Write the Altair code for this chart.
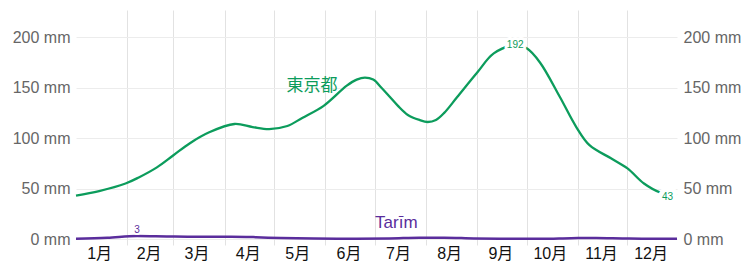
import altair as alt
import pandas as pd

YEAR = 2023

# 東京都 precipitation curve
tokyo_days = ["01-01", "01-15", "01-31", "02-08", "02-19", "03-01", "03-11", "03-23",
              "04-07", "04-18", "04-28", "05-09", "05-18", "05-31", "06-14", "06-20",
              "06-25", "06-30", "07-05", "07-10", "07-15", "07-21", "07-28", "08-02",
              "08-07", "08-12", "08-20", "09-01", "09-11", "09-24", "10-01", "10-09",
              "10-21", "10-31", "11-08", "11-21", "12-01", "12-11", "12-21", "12-31"]
tokyo_mm = [43, 47.5, 55, 61, 71, 83, 95, 106,
            114, 111, 109, 112, 120, 132, 152, 158,
            160, 158, 150, 141, 132, 123, 118, 116,
            118, 125, 141, 165, 184, 192, 189, 175,
            141, 111, 93, 80, 70, 55, 46, 43]

# Tarīm precipitation curve
tarim_days = ["01-01", "01-20", "02-07", "02-25", "03-15", "04-05", "04-20", "05-05",
              "05-25", "06-20", "07-10", "07-28", "08-12", "08-30", "09-20", "10-10",
              "10-28", "11-12", "11-28", "12-15", "12-31"]
tarim_mm = [0.3, 1.3, 3, 2.6, 2.3, 2.3, 1.8, 0.9,
            0.4, 0.3, 0.5, 1.3, 1.3, 0.5, 0.2, 0.2,
            0.8, 1.0, 0.6, 0.3, 0.3]

month_labels = ["1月", "2月", "3月", "4月", "5月", "6月", "7月", "8月", "9月", "10月", "11月", "12月"]
label_days = [15, 14, 15, 15, 15, 15, 15, 15, 15, 15, 15, 15]
y_ticks = [0, 50, 100, 150, 200]

# annotations (date, value, text)
peak_labels = pd.DataFrame({
    "date": [f"{YEAR}-09-24T00:00:00"], "mm": [192], "text": ["192"]})
end_labels = pd.DataFrame({
    "date": [f"{YEAR}-12-31T00:00:00"], "mm": [43], "text": ["43"]})
tarim_max = pd.DataFrame({
    "date": [f"{YEAR}-02-07T00:00:00"], "mm": [3], "text": ["3"]})
series_names = pd.DataFrame({
    "date": [f"{YEAR}-05-24T00:00:00", f"{YEAR}-07-14T00:00:00"],
    "mm": [151.5, 15.8],
    "text": ["東京都", "Tarīm"],
    "series": ["tokyo", "tarim"]})

tokyo = pd.DataFrame({"date": [f"{YEAR}-{d}T00:00:00" for d in tokyo_days], "mm": tokyo_mm})
tarim = pd.DataFrame({"date": [f"{YEAR}-{d}T00:00:00" for d in tarim_days], "mm": tarim_mm})

GREEN = "#0c9c5c"
PURPLE = "#5a2d9c"
FONT = "Liberation Sans, Arial, Noto Sans CJK JP, sans-serif"

xscale = alt.Scale(domain=[alt.DateTime(year=YEAR, month=1, date=1),
                           alt.DateTime(year=YEAR, month=12, date=31)], nice=False)
yscale = alt.Scale(domain=[0, 227], nice=False, zero=True)

grid_axis = alt.Axis(
    values=[alt.DateTime(year=YEAR, month=m, date=1) for m in range(2, 13)],
    orient="bottom",
    grid=True, gridColor="#e2e2e2", gridWidth=1,
    ticks=True, tickSize=6, tickColor="#e2e2e2", tickWidth=1,
    labels=False, domain=False, title=None)

label_axis = alt.Axis(
    values=[alt.DateTime(year=YEAR, month=i + 1, date=label_days[i]) for i in range(12)],
    labelExpr="(month(datum.value)+1) + '月'",
    orient="bottom",
    grid=False, ticks=False, tickSize=0, domain=False, title=None,
    labelFontSize=16, labelColor="#111", labelPadding=6, labelFont=FONT,
    labelFlush=False, labelOverlap=False)

left_axis = alt.Axis(
    values=y_ticks, labelExpr="datum.value + ' mm'", orient="left",
    grid=True, gridColor="#ececec", ticks=False, tickSize=0, domain=False, title=None,
    labelFontSize=16, labelColor="#666", labelPadding=6, labelFont=FONT)

right_axis = alt.Axis(
    values=y_ticks, labelExpr="datum.value + ' mm'", orient="right",
    grid=False, ticks=False, tickSize=0, domain=False, title=None,
    labelFontSize=16, labelColor="#666", labelPadding=6, labelFont=FONT)

green_line = alt.Chart(tokyo).mark_line(
    color=GREEN, strokeWidth=2.3, interpolate="catmull-rom").encode(
    x=alt.X("date:T", scale=xscale, axis=grid_axis),
    y=alt.Y("mm:Q", scale=yscale, axis=left_axis))

purple_line = alt.Chart(tarim).mark_line(
    color=PURPLE, strokeWidth=2.5, interpolate="monotone").encode(
    x=alt.X("date:T", scale=xscale, axis=label_axis),
    y=alt.Y("mm:Q", scale=yscale, axis=right_axis))


def text_layer(df, color, size, halo, **kw):
    enc = dict(x=alt.X("date:T", scale=xscale, axis=None),
               y=alt.Y("mm:Q", scale=yscale, axis=None),
               text="text:N")
    layers = []
    if halo:
        layers.append(alt.Chart(df).mark_text(
            fontSize=size, font=FONT, color="white", stroke="white",
            strokeWidth=halo, strokeJoin="round", **kw).encode(**enc))
    layers.append(alt.Chart(df).mark_text(
        fontSize=size, font=FONT, color=color, **kw).encode(**enc))
    return layers


layers = [green_line, purple_line]
layers += text_layer(peak_labels, GREEN, 10, 6, align="center", baseline="middle")
layers += text_layer(end_labels, GREEN, 10, 10, align="right", baseline="middle", dx=-4, dy=1)
layers += text_layer(tarim_max, PURPLE, 10, 4, align="center", baseline="bottom", dy=-1)
layers += text_layer(series_names[series_names.series == "tokyo"], GREEN, 17, 0,
                     align="center", baseline="middle")
layers += text_layer(series_names[series_names.series == "tarim"], PURPLE, 17, 0,
                     align="center", baseline="middle")

chart = alt.layer(*layers).resolve_axis(x="independent", y="independent").properties(
    width=601, height=229,
    autosize=alt.AutoSizeParams(type="none"),
    padding={"left": 76, "top": 10, "right": 76, "bottom": 28},
).configure(font=FONT, view=alt.ViewConfig(stroke=None))

chart.save("out.html", embed_options={"renderer": "svg", "actions": False})
